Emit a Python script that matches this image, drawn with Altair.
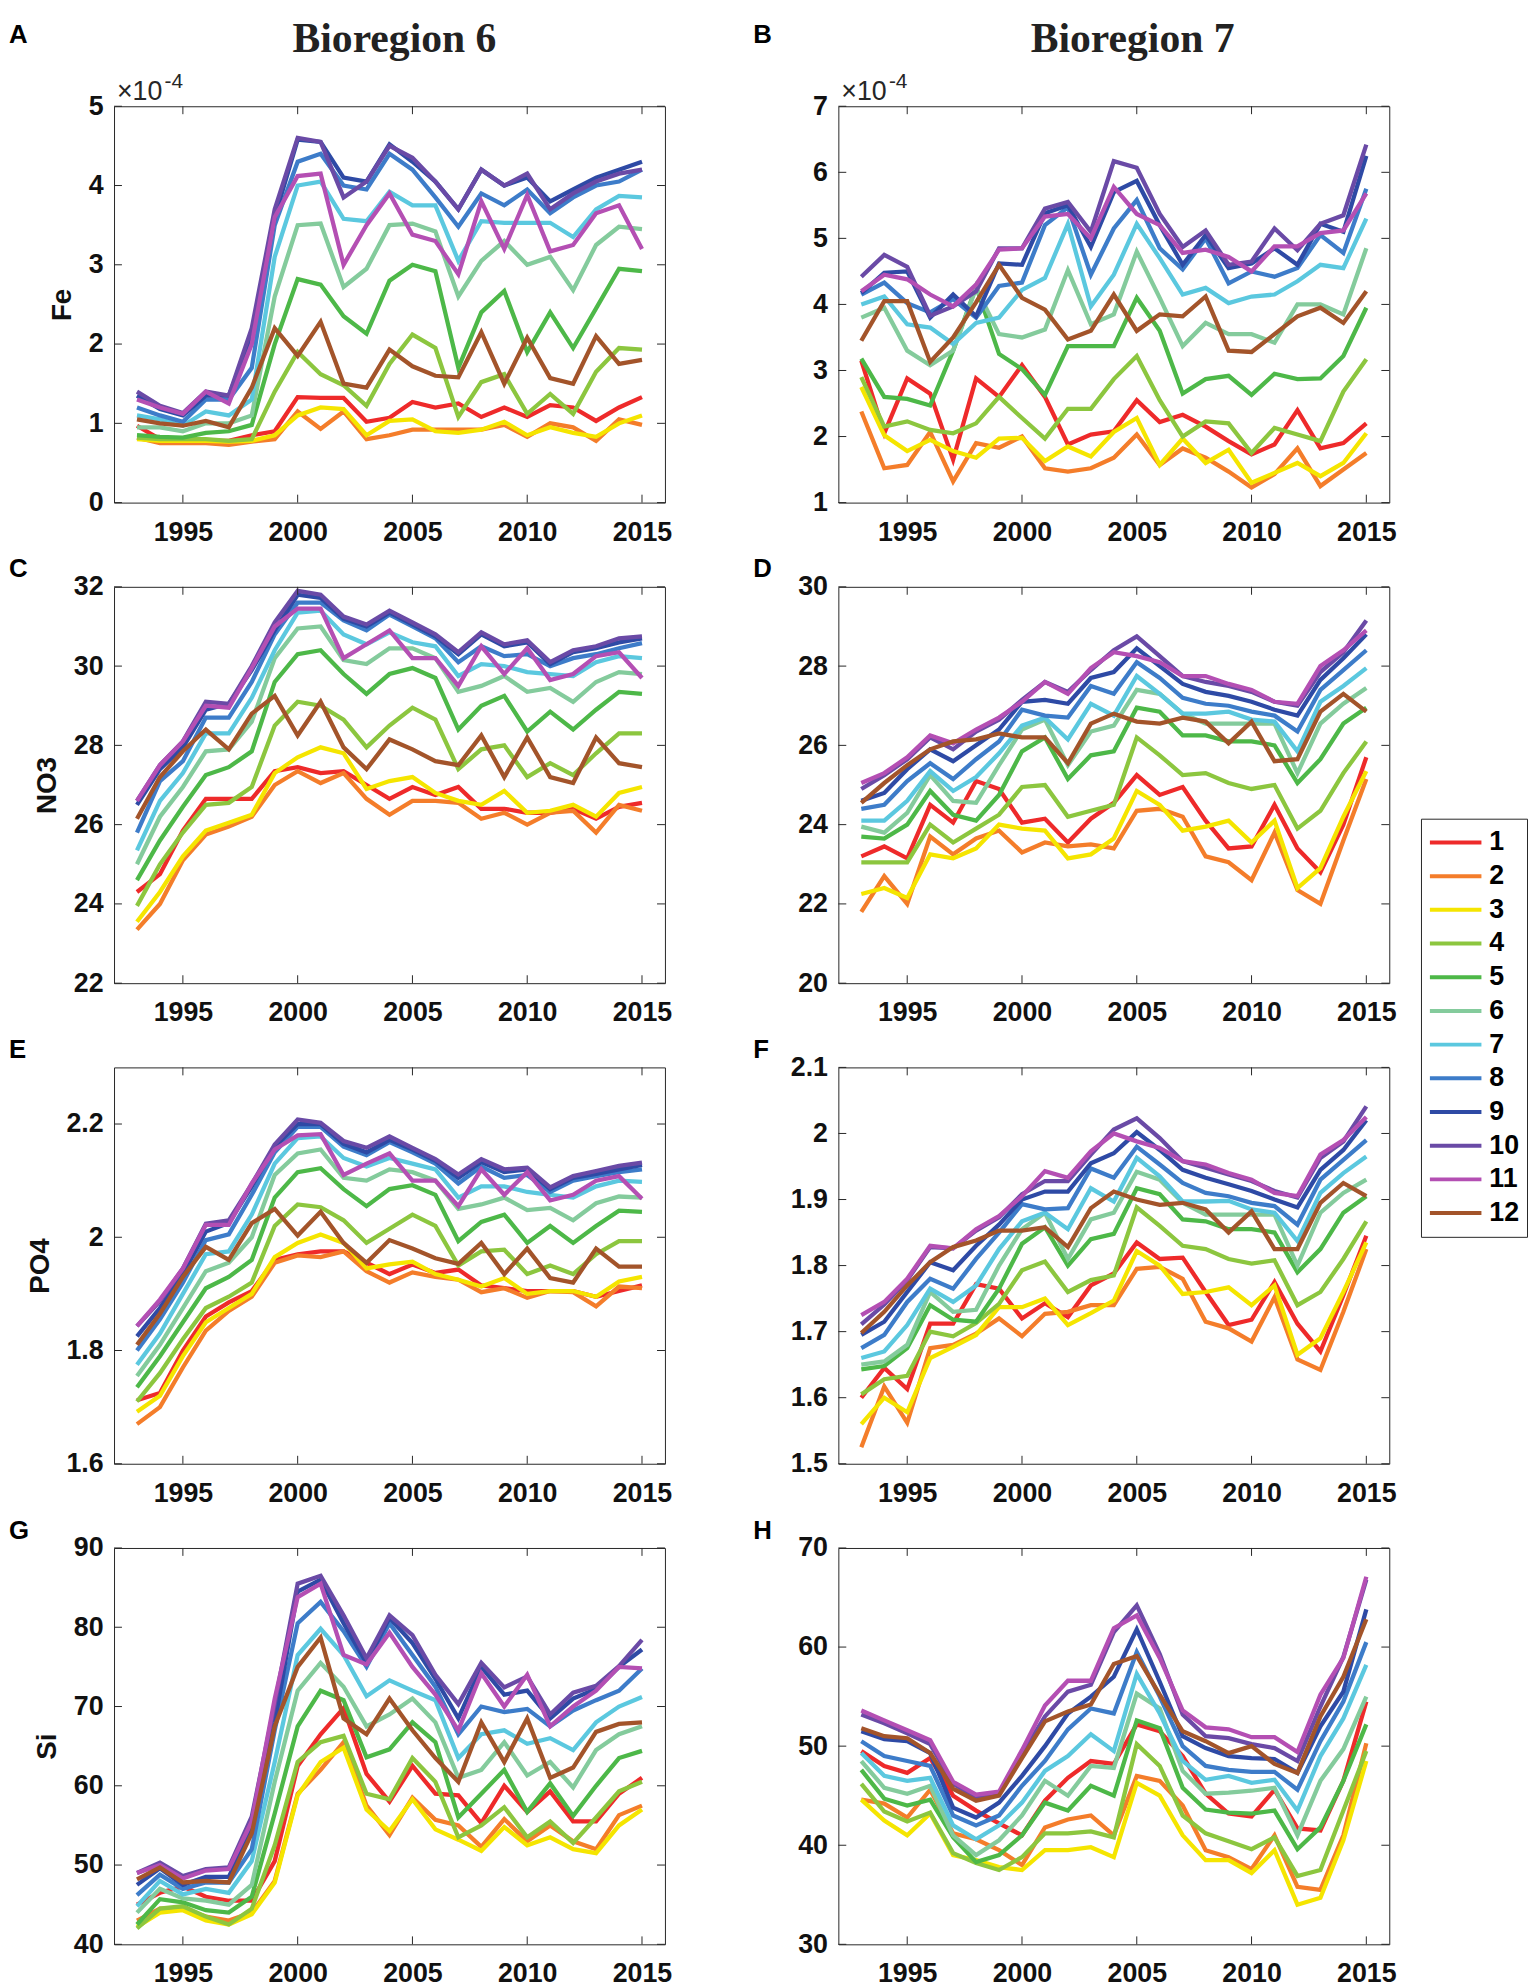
import altair as alt
import pandas as pd

YEARS = list(range(1993, 2016))
SERIES = [str(i) for i in range(1, 13)]
COLORS = ["#EE2A2A", "#F47D2A", "#F5E500", "#8CC63F", "#4DB848", "#84CB9C",
          "#5BC8DF", "#3D7CC9", "#2E4AA5", "#6A4AA6", "#B44FB3", "#A3542A"]
XTICKS = [1995, 2000, 2005, 2010, 2015]

# Fe in units of 1e-4, bioregion 6 (series 1..12)
FE_B6 = [
    [0.97,0.8,0.78,0.78,0.78,0.85,0.9,1.33,1.32,1.32,1.02,1.07,1.27,1.2,1.25,1.08,1.2,1.08,1.23,1.2,1.03,1.2,1.33],
    [0.82,0.75,0.75,0.75,0.73,0.77,0.8,1.15,0.93,1.15,0.8,0.85,0.92,0.92,0.92,0.92,0.98,0.83,1.0,0.95,0.78,1.05,0.98],
    [0.8,0.78,0.78,0.78,0.77,0.78,0.85,1.1,1.2,1.18,0.85,1.03,1.05,0.9,0.88,0.92,1.02,0.85,0.95,0.88,0.83,1.0,1.1],
    [0.82,0.8,0.8,0.8,0.78,0.8,1.4,1.9,1.62,1.48,1.22,1.75,2.12,1.95,1.08,1.52,1.62,1.12,1.37,1.12,1.65,1.95,1.93],
    [0.85,0.83,0.82,0.88,0.9,0.98,2.0,2.82,2.75,2.35,2.13,2.8,3.0,2.92,1.7,2.4,2.67,1.9,2.4,1.95,2.45,2.95,2.92],
    [0.95,0.95,0.9,1.0,1.0,1.1,2.6,3.5,3.52,2.72,2.95,3.5,3.52,3.42,2.6,3.05,3.3,3.0,3.1,2.68,3.25,3.48,3.45],
    [1.1,1.05,0.97,1.15,1.1,1.3,3.1,4.0,4.05,3.58,3.55,3.92,3.75,3.75,3.05,3.55,3.53,3.53,3.53,3.35,3.7,3.87,3.85],
    [1.2,1.1,1.02,1.3,1.3,1.7,3.5,4.3,4.4,4.0,3.95,4.4,4.2,3.85,3.48,3.9,3.75,3.95,3.65,3.85,4.0,4.05,4.2],
    [1.35,1.18,1.1,1.35,1.35,2.1,3.6,4.58,4.55,4.1,4.05,4.52,4.3,4.05,3.7,4.2,4.0,4.1,3.8,3.95,4.1,4.2,4.3],
    [1.4,1.22,1.13,1.4,1.35,2.2,3.7,4.6,4.55,3.85,4.05,4.5,4.35,4.05,3.7,4.2,4.0,4.15,3.7,3.9,4.05,4.15,4.2],
    [1.3,1.2,1.12,1.4,1.25,2.0,3.6,4.12,4.15,3.0,3.5,3.9,3.38,3.3,2.88,3.8,3.2,3.88,3.17,3.25,3.65,3.75,3.2],
    [1.05,1.0,0.97,1.03,0.95,1.45,2.2,1.85,2.28,1.5,1.45,1.93,1.72,1.6,1.58,2.15,1.5,2.08,1.57,1.5,2.1,1.75,1.8],
]
FE_B7 = [
    [3.15,2.05,2.88,2.65,1.65,2.88,2.6,3.08,2.6,1.88,2.03,2.08,2.55,2.22,2.33,2.15,1.93,1.73,1.88,2.4,1.82,1.9,2.2],
    [2.38,1.52,1.57,2.07,1.32,1.9,1.83,2.0,1.52,1.47,1.52,1.68,2.03,1.57,1.82,1.68,1.47,1.23,1.43,1.82,1.25,1.5,1.75],
    [2.75,2.02,1.78,1.95,1.78,1.68,1.97,1.98,1.63,1.85,1.7,2.07,2.28,1.57,1.97,1.6,1.8,1.3,1.45,1.6,1.4,1.6,2.05],
    [2.9,2.15,2.23,2.1,2.05,2.2,2.6,2.28,1.97,2.42,2.42,2.87,3.22,2.55,2.0,2.23,2.2,1.75,2.13,2.03,1.93,2.68,3.17],
    [3.18,2.6,2.57,2.47,3.3,4.27,3.25,3.02,2.63,3.37,3.37,3.37,4.1,3.6,2.65,2.87,2.92,2.63,2.95,2.87,2.88,3.22,3.95],
    [3.8,3.95,3.3,3.08,3.3,4.25,3.55,3.5,3.62,4.52,3.7,3.85,4.8,4.1,3.37,3.72,3.55,3.55,3.42,4.0,4.0,3.85,4.85],
    [4.0,4.12,3.7,3.65,3.4,3.72,3.8,4.22,4.4,5.22,3.97,4.45,5.22,4.7,4.15,4.25,4.02,4.12,4.15,4.35,4.6,4.55,5.3],
    [4.15,4.33,4.02,3.88,4.08,3.8,4.28,4.33,5.2,5.47,4.45,5.15,5.58,4.85,4.53,5.0,4.32,4.5,4.42,4.55,5.05,4.78,5.75],
    [4.17,4.48,4.5,3.8,4.15,3.82,4.62,4.6,5.38,5.5,4.87,5.7,5.87,5.2,4.6,5.05,4.55,4.62,4.85,4.6,5.22,5.1,6.25],
    [4.42,4.75,4.57,3.83,3.97,4.2,4.85,4.85,5.45,5.55,5.1,6.17,6.07,5.37,4.87,5.12,4.6,4.65,5.15,4.82,5.22,5.35,6.42],
    [4.2,4.45,4.38,4.15,3.97,4.3,4.83,4.85,5.33,5.37,5.0,5.78,5.37,5.2,4.78,4.83,4.72,4.5,4.88,4.88,5.08,5.12,5.68],
    [3.45,4.05,4.05,3.13,3.5,4.03,4.6,4.1,3.92,3.47,3.6,4.15,3.6,3.85,3.82,4.12,3.3,3.28,3.55,3.82,3.95,3.72,4.2],
]
NO3_B6 = [
    [24.3,24.75,25.85,26.65,26.65,26.65,27.35,27.45,27.3,27.35,27.0,26.65,26.95,26.75,26.95,26.4,26.4,26.3,26.3,26.4,26.15,26.45,26.55],
    [23.35,24.0,25.1,25.75,25.95,26.2,27.0,27.35,27.05,27.3,26.65,26.25,26.6,26.6,26.55,26.15,26.3,26.0,26.3,26.35,25.8,26.5,26.35],
    [23.55,24.3,25.2,25.85,26.05,26.25,27.3,27.7,27.95,27.8,26.9,27.1,27.2,26.8,26.6,26.5,26.85,26.3,26.35,26.5,26.2,26.8,26.95],
    [23.95,25.0,25.8,26.5,26.55,26.95,28.5,29.1,29.0,28.65,27.95,28.5,28.95,28.65,27.4,27.9,28.0,27.2,27.55,27.25,27.8,28.3,28.3],
    [24.6,25.6,26.45,27.25,27.45,27.85,29.6,30.3,30.4,29.8,29.3,29.8,29.95,29.7,28.4,29.0,29.25,28.35,28.85,28.4,28.9,29.35,29.3],
    [25.0,26.2,26.95,27.85,27.9,28.6,30.2,30.95,31.0,30.15,30.05,30.45,30.45,30.2,29.35,29.5,29.75,29.35,29.45,29.1,29.6,29.85,29.8],
    [25.35,26.6,27.3,28.3,28.3,29.2,30.4,31.35,31.4,30.8,30.55,30.85,30.6,30.5,29.75,30.05,30.0,29.85,29.8,29.75,30.1,30.25,30.2],
    [25.8,27.1,27.6,28.7,28.7,29.6,30.8,31.6,31.6,31.15,30.9,31.3,31.0,30.7,30.1,30.5,30.25,30.3,30.0,30.2,30.3,30.45,30.58],
    [26.5,27.4,27.95,28.9,29.05,29.9,30.9,31.8,31.72,31.2,31.0,31.35,31.05,30.75,30.3,30.8,30.5,30.6,30.05,30.35,30.45,30.6,30.7],
    [26.6,27.5,28.1,29.1,29.05,30.0,31.1,31.9,31.8,31.25,31.05,31.4,31.1,30.8,30.35,30.85,30.55,30.65,30.1,30.4,30.5,30.7,30.75],
    [26.6,27.5,28.1,29.0,28.95,29.95,31.0,31.45,31.45,30.2,30.55,30.9,30.2,30.2,29.5,30.5,29.8,30.45,29.65,29.8,30.25,30.35,29.7],
    [26.15,27.2,27.85,28.4,27.9,28.8,29.25,28.25,29.1,27.95,27.4,28.15,27.9,27.6,27.5,28.25,27.2,28.2,27.2,27.05,28.2,27.55,27.45],
]
NO3_B7 = [
    [23.2,23.45,23.15,24.5,24.05,25.1,24.9,24.05,24.15,23.55,24.15,24.55,25.25,24.75,24.95,24.1,23.4,23.45,24.5,23.4,22.8,24.0,25.7],
    [21.8,22.7,22.0,23.7,23.25,23.65,23.85,23.3,23.55,23.45,23.5,23.4,24.35,24.4,24.2,23.2,23.05,22.6,23.8,22.35,22.0,23.6,25.15],
    [22.25,22.4,22.15,23.25,23.15,23.4,24.0,23.9,23.85,23.15,23.25,23.65,24.85,24.5,23.85,23.95,24.1,23.55,24.1,22.4,22.9,24.2,25.35],
    [23.05,23.05,23.05,24.0,23.55,23.9,24.25,24.95,25.0,24.2,24.35,24.5,26.2,25.75,25.25,25.3,25.05,24.9,25.0,23.9,24.35,25.3,26.1],
    [23.7,23.65,24.0,24.85,24.25,24.1,24.75,25.85,26.2,25.15,25.75,25.85,26.95,26.85,26.25,26.25,26.1,26.1,26.0,25.05,25.65,26.55,26.95],
    [23.95,23.8,24.3,25.25,24.6,24.55,25.5,26.4,26.65,25.5,26.35,26.5,27.4,27.3,26.8,26.55,26.55,26.55,26.55,25.3,26.55,27.05,27.45],
    [24.1,24.1,24.6,25.35,24.85,25.2,25.8,26.5,26.7,26.15,27.05,26.75,27.75,27.3,26.8,26.8,26.85,26.65,26.6,25.85,27.1,27.5,27.95],
    [24.4,24.5,25.1,25.55,25.15,25.65,26.1,26.9,26.75,26.7,27.5,27.3,28.1,27.7,27.2,27.05,27.0,26.85,26.75,26.35,27.4,27.9,28.4],
    [24.6,24.8,25.4,25.9,25.6,26.0,26.4,27.1,27.15,27.05,27.7,27.85,28.45,28.0,27.55,27.35,27.25,27.1,26.9,26.75,27.65,28.2,28.8],
    [24.9,25.25,25.65,26.2,25.9,26.35,26.65,27.15,27.6,27.35,27.9,28.4,28.75,28.25,27.75,27.6,27.5,27.35,27.1,27.0,27.85,28.35,29.15],
    [25.05,25.3,25.7,26.25,26.05,26.4,26.7,27.1,27.6,27.3,27.95,28.35,28.25,28.1,27.75,27.75,27.55,27.4,27.1,27.05,28.0,28.4,28.9],
    [24.55,25.05,25.5,25.9,26.1,26.15,26.3,26.2,26.2,25.55,26.55,26.8,26.6,26.55,26.7,26.6,26.05,26.6,25.6,25.65,26.85,27.3,26.85],
]
PO4_B6 = [
    [1.712,1.725,1.8,1.86,1.885,1.905,1.96,1.97,1.975,1.975,1.955,1.935,1.952,1.937,1.943,1.915,1.91,1.905,1.905,1.905,1.895,1.905,1.915],
    [1.67,1.7,1.77,1.835,1.87,1.895,1.955,1.968,1.965,1.975,1.94,1.92,1.938,1.93,1.925,1.903,1.91,1.893,1.905,1.903,1.878,1.913,1.91],
    [1.692,1.72,1.79,1.85,1.875,1.9,1.965,1.99,2.005,1.99,1.945,1.952,1.957,1.935,1.925,1.913,1.928,1.9,1.905,1.905,1.895,1.922,1.93],
    [1.71,1.76,1.82,1.875,1.895,1.92,2.02,2.058,2.053,2.03,1.99,2.015,2.04,2.02,1.95,1.975,1.978,1.935,1.95,1.935,1.97,1.993,1.993],
    [1.735,1.79,1.85,1.91,1.93,1.96,2.07,2.115,2.122,2.085,2.055,2.085,2.092,2.075,1.993,2.027,2.04,1.99,2.02,1.99,2.02,2.047,2.045],
    [1.755,1.81,1.875,1.94,1.955,2.0,2.11,2.148,2.155,2.105,2.1,2.12,2.115,2.1,2.05,2.058,2.07,2.048,2.052,2.03,2.06,2.072,2.07],
    [1.775,1.83,1.9,1.97,1.975,2.04,2.13,2.175,2.178,2.14,2.125,2.14,2.13,2.12,2.07,2.09,2.09,2.08,2.075,2.07,2.09,2.1,2.098],
    [1.8,1.855,1.92,1.995,2.005,2.075,2.15,2.195,2.195,2.16,2.145,2.168,2.15,2.13,2.095,2.125,2.105,2.11,2.08,2.1,2.108,2.115,2.12],
    [1.825,1.875,1.935,2.01,2.025,2.09,2.16,2.2,2.2,2.165,2.15,2.172,2.155,2.135,2.105,2.133,2.115,2.12,2.085,2.105,2.112,2.12,2.128],
    [1.843,1.887,1.945,2.024,2.03,2.094,2.164,2.208,2.202,2.17,2.158,2.178,2.158,2.138,2.111,2.138,2.12,2.123,2.088,2.108,2.117,2.126,2.132],
    [1.843,1.89,1.945,2.022,2.022,2.095,2.155,2.18,2.182,2.11,2.13,2.148,2.1,2.1,2.055,2.12,2.075,2.115,2.065,2.075,2.1,2.108,2.068],
    [1.81,1.865,1.93,1.983,1.96,2.025,2.05,2.003,2.045,1.99,1.955,1.995,1.98,1.963,1.953,1.99,1.935,1.98,1.928,1.92,1.98,1.948,1.948],
]
PO4_B7 = [
    [1.6,1.645,1.613,1.712,1.712,1.772,1.765,1.72,1.743,1.722,1.77,1.788,1.835,1.81,1.812,1.76,1.71,1.718,1.775,1.712,1.67,1.755,1.845],
    [1.525,1.617,1.562,1.675,1.68,1.697,1.72,1.693,1.727,1.73,1.74,1.74,1.795,1.798,1.78,1.715,1.705,1.685,1.752,1.658,1.642,1.73,1.825],
    [1.56,1.6,1.578,1.66,1.677,1.695,1.737,1.737,1.75,1.71,1.728,1.747,1.822,1.8,1.757,1.76,1.767,1.74,1.77,1.665,1.69,1.76,1.835],
    [1.605,1.628,1.633,1.7,1.693,1.713,1.742,1.793,1.806,1.76,1.778,1.785,1.888,1.86,1.83,1.825,1.81,1.803,1.808,1.74,1.76,1.81,1.867],
    [1.643,1.648,1.675,1.74,1.718,1.715,1.765,1.833,1.858,1.8,1.84,1.848,1.917,1.908,1.87,1.867,1.855,1.855,1.85,1.79,1.825,1.88,1.905],
    [1.65,1.655,1.68,1.76,1.73,1.733,1.8,1.855,1.88,1.81,1.87,1.88,1.942,1.93,1.895,1.877,1.877,1.877,1.877,1.8,1.88,1.91,1.93],
    [1.66,1.67,1.71,1.765,1.745,1.77,1.825,1.867,1.88,1.855,1.917,1.897,1.963,1.935,1.897,1.897,1.898,1.885,1.88,1.837,1.91,1.94,1.965],
    [1.675,1.695,1.745,1.78,1.765,1.81,1.85,1.893,1.885,1.887,1.947,1.933,1.98,1.953,1.925,1.91,1.905,1.895,1.89,1.862,1.93,1.96,1.99],
    [1.695,1.715,1.76,1.805,1.793,1.83,1.862,1.9,1.912,1.912,1.955,1.97,2.002,1.975,1.945,1.933,1.923,1.913,1.9,1.888,1.945,1.975,2.02],
    [1.711,1.741,1.778,1.828,1.826,1.853,1.873,1.908,1.928,1.928,1.968,2.006,2.023,1.993,1.958,1.948,1.938,1.928,1.913,1.903,1.963,1.988,2.041],
    [1.725,1.745,1.78,1.83,1.826,1.855,1.875,1.905,1.943,1.933,1.973,2.0,1.988,1.978,1.958,1.953,1.94,1.93,1.91,1.905,1.968,1.99,2.025],
    [1.698,1.73,1.77,1.805,1.828,1.838,1.853,1.853,1.858,1.828,1.887,1.912,1.9,1.892,1.895,1.885,1.85,1.882,1.825,1.825,1.895,1.925,1.905],
]
SI_B6 = [
    [45.0,46.5,47.3,46.0,45.5,45.5,50.5,62.5,66.5,69.8,61.5,58.0,62.5,59.0,58.8,55.3,60.0,56.7,59.3,55.5,55.5,59.0,61.0],
    [43.0,44.5,44.5,43.5,43.0,44.0,48.0,59.0,62.0,65.5,57.5,53.8,58.5,55.7,55.0,52.3,55.8,53.0,55.0,53.0,52.0,56.3,57.5],
    [42.2,44.0,44.3,43.0,42.5,43.8,47.8,58.8,63.0,64.8,57.0,54.3,58.3,54.5,53.2,51.8,54.8,52.5,53.5,52.0,51.5,55.0,57.0],
    [42.0,44.5,44.8,43.5,42.5,44.5,52.5,63.0,65.5,66.3,59.0,58.3,63.5,60.5,53.5,55.0,57.3,53.5,55.5,52.8,56.0,59.3,60.5],
    [42.5,45.7,45.3,44.3,44.0,46.0,56.5,67.5,72.0,70.8,63.6,64.6,68.0,65.5,56.0,59.0,62.0,56.7,60.3,56.2,60.0,63.5,64.4],
    [44.0,47.0,45.8,45.5,45.0,47.5,60.5,72.0,75.5,72.5,67.5,69.0,71.0,68.0,61.0,62.0,65.5,61.3,63.0,59.8,64.5,66.5,67.5],
    [44.8,48.0,46.3,47.0,46.5,50.5,63.0,76.5,79.8,76.5,71.3,73.3,72.0,70.8,63.5,66.5,67.0,65.3,66.0,64.5,68.0,70.0,71.2],
    [46.2,48.8,47.0,47.8,47.8,52.0,67.0,80.5,83.2,79.5,75.0,80.5,76.5,72.5,66.5,70.0,69.3,69.7,67.5,69.5,70.8,72.0,74.8],
    [47.5,49.6,47.5,48.5,48.5,54.5,68.0,84.5,86.0,80.5,75.5,81.2,78.0,73.5,68.5,75.0,71.5,72.0,68.5,71.0,72.2,75.0,77.2],
    [49.0,50.3,48.6,49.5,49.7,56.1,70.3,85.5,86.5,81.5,76.1,81.5,79.0,74.0,70.3,75.5,72.4,73.8,69.0,71.75,72.6,75.1,78.4],
    [49.0,50.0,48.3,49.3,49.5,55.5,71.0,83.8,85.5,76.5,75.3,79.3,75.0,71.5,67.0,74.2,70.0,74.0,67.5,70.0,72.0,75.0,74.8],
    [48.2,49.7,47.8,48.0,47.8,54.0,67.5,75.0,78.7,68.5,66.5,71.0,67.0,63.5,60.5,68.0,63.0,68.5,61.0,62.3,66.8,67.8,68.0],
]
SI_B7 = [
    [49.5,48.0,47.3,48.8,45.0,43.5,42.2,41.0,44.5,46.8,48.5,48.2,52.2,51.5,49.0,45.2,43.2,42.9,45.6,41.7,41.5,46.5,54.5],
    [44.6,44.2,42.8,45.6,41.2,40.6,39.5,38.0,41.8,42.6,43.0,41.0,47.0,46.5,44.0,39.5,38.8,37.6,41.0,35.8,35.5,41.0,50.3],
    [44.6,42.5,41.0,43.2,39.0,38.5,37.8,37.5,39.5,39.5,39.8,38.8,46.3,45.0,41.0,38.5,38.5,37.2,39.5,34.0,34.7,40.5,48.5],
    [46.2,43.4,42.4,43.3,39.2,38.2,37.5,38.8,41.2,41.2,41.4,40.8,50.2,48.0,43.0,41.2,40.4,39.6,40.8,36.9,37.5,43.5,49.5],
    [47.6,44.7,44.0,44.6,40.8,38.3,39.0,41.0,44.3,43.5,46.0,45.0,52.6,51.8,45.8,43.6,43.3,43.2,43.5,39.6,41.8,46.5,52.2],
    [48.5,45.8,45.2,46.0,41.0,39.0,40.5,43.0,46.5,45.0,48.0,47.8,55.3,53.8,47.5,45.2,45.3,45.5,45.8,41.0,46.5,49.7,55.0],
    [49.3,47.0,46.5,46.8,42.0,40.6,42.0,44.3,47.5,49.0,51.2,49.5,57.3,53.3,48.5,46.6,47.0,46.3,46.6,43.5,49.0,52.8,58.2],
    [50.5,49.0,48.5,48.0,43.0,42.0,43.0,46.0,48.5,51.7,53.8,53.3,59.5,55.0,50.0,48.0,47.6,47.4,47.4,45.6,50.5,54.5,60.5],
    [51.5,50.7,50.5,49.3,43.8,42.8,44.3,47.0,50.0,53.3,55.0,57.0,61.8,56.5,51.0,49.8,49.0,48.8,48.7,47.3,52.0,55.5,63.8],
    [53.2,52.3,51.3,50.2,46.2,44.8,45.2,49.2,53.0,55.5,56.2,61.5,64.2,59.3,53.2,51.0,50.8,50.2,49.8,48.5,54.0,59.0,66.8],
    [53.6,52.6,51.6,50.6,46.4,45.1,45.4,49.6,54.1,56.6,56.6,61.9,63.2,58.9,53.6,51.9,51.7,50.9,50.9,49.4,55.2,58.9,67.1],
    [51.8,51.0,50.8,49.3,45.7,44.5,45.0,48.8,52.5,53.5,54.2,58.3,59.1,55.2,51.5,50.5,49.3,50.0,48.2,47.3,53.0,57.0,62.8],
]

W, H = 556, 400
TICK = 8
AX = "#262626"
SANS = "Liberation Sans"
SERIF = "Liberation Serif"

LEGEND = alt.Legend(
    title=None, orient="none", legendX=1319, legendY=719,
    symbolType="stroke", symbolStrokeWidth=4, symbolSize=2704,
    labelFont=SANS, labelFontSize=27, labelFontWeight="bold", labelColor="black",
    labelOffset=6, strokeColor=AX, fillColor="white", padding=7,
    clipHeight=34, rowPadding=0, symbolOpacity=1,
)


def text_mark(s, x, y, size, font, weight="bold", align="left", color="black"):
    # y is the alphabetic baseline; drawn with a "top" baseline so the text's
    # layout box stays close to the glyphs
    return alt.Chart(pd.DataFrame({"s": [s]})).mark_text(
        align=align, baseline="top", fontSize=size, font=font,
        fontWeight=weight, color=color,
    ).encode(x=alt.value(x), y=alt.value(y - 0.79 * size), text="s:N")


def panel(values, ydom, yticks, yfmt, ytitle, letter, left_col, top_row, title=None, sci=False):
    assert len(values) == 12 and all(len(v) == len(YEARS) for v in values)
    rows = []
    for s, vals in zip(SERIES, values):
        for yr, v in zip(YEARS, vals):
            rows.append({"year": yr, "value": v, "series": s})
    df = pd.DataFrame(rows)
    xscale = alt.Scale(domain=[1992, 2016], nice=False, zero=False)
    yscale = alt.Scale(domain=ydom, nice=False, zero=False)
    xaxis = alt.Axis(values=XTICKS, format="d", title=None, grid=False, domain=False,
                     ticks=False, labelPadding=17, labelFlush=False, labelOverlap=False)
    yargs = dict(values=yticks, format=yfmt, grid=False, domain=False, ticks=False,
                 labelPadding=11, labelFlush=False, labelOverlap=False, titlePadding=12)
    yaxis = alt.Axis(title=ytitle, **yargs) if ytitle else alt.Axis(title=None, **yargs)
    lines = alt.Chart(df).mark_line(strokeWidth=4.3).encode(
        x=alt.X("year:Q", scale=xscale, axis=xaxis),
        y=alt.Y("value:Q", scale=yscale, axis=yaxis),
        color=alt.Color("series:N", scale=alt.Scale(domain=SERIES, range=COLORS), legend=LEGEND),
    )
    xt = alt.Chart(pd.DataFrame({"t": XTICKS}))
    yt = alt.Chart(pd.DataFrame({"t": yticks}))
    rule = dict(color=AX, strokeWidth=1)
    ticks = [
        xt.mark_rule(**rule).encode(x=alt.X("t:Q", scale=xscale, axis=xaxis), y=alt.value(H), y2=alt.value(H - TICK)),
        xt.mark_rule(**rule).encode(x=alt.X("t:Q", scale=xscale, axis=xaxis), y=alt.value(0), y2=alt.value(TICK)),
        yt.mark_rule(**rule).encode(y=alt.Y("t:Q", scale=yscale, axis=yaxis), x=alt.value(0), x2=alt.value(TICK)),
        yt.mark_rule(**rule).encode(y=alt.Y("t:Q", scale=yscale, axis=yaxis), x=alt.value(W - TICK), x2=alt.value(W)),
    ]
    texts = []
    lx = -106 if left_col else -86
    ly = -64 if top_row else -10
    texts.append(text_mark(letter, lx, ly, 26, SANS))
    if title:
        cx = 283 if left_col else 297
        texts.append(text_mark(title, cx, -55, 42, SERIF, align="center", color="#222222"))
    if sci:
        texts.append(text_mark("\u00d710", 3, -6, 27, SANS, weight="normal", color=AX))
        texts.append(text_mark("-4", 51, -19, 21, SANS, weight="normal", color=AX))
    return alt.layer(lines, *ticks, *texts).properties(width=W, height=H)


pA = panel(FE_B6, [0, 5], [0, 1, 2, 3, 4, 5], "d", "Fe", "A", True, True, "Bioregion 6", True)
pB = panel(FE_B7, [1, 7], [1, 2, 3, 4, 5, 6, 7], "d", None, "B", False, True, "Bioregion 7", True)
pC = panel(NO3_B6, [22, 32], [22, 24, 26, 28, 30, 32], "d", "NO3", "C", True, False)
pD = panel(NO3_B7, [20, 30], [20, 22, 24, 26, 28, 30], "d", None, "D", False, False)
pE = panel(PO4_B6, [1.6, 2.3], [1.6, 1.8, 2.0, 2.2], ".1~f", "PO4", "E", True, False)
pF = panel(PO4_B7, [1.5, 2.1], [1.5, 1.6, 1.7, 1.8, 1.9, 2.0, 2.1], ".1~f", None, "F", False, False)
pG = panel(SI_B6, [40, 90], [40, 50, 60, 70, 80, 90], "d", "Si", "G", True, False)
pH = panel(SI_B7, [30, 70], [30, 40, 50, 60, 70], "d", None, "H", False, False)

chart = alt.concat(
    pA, pB, pC, pD, pE, pF, pG, pH,
    columns=2, spacing={"row": 85, "column": 175}, bounds="flush",
).resolve_scale(y="independent", x="independent").configure(
    padding={"left": 0, "top": 0, "right": 0, "bottom": 0},
    background="white",
).configure_view(
    stroke=AX, strokeWidth=1,
).configure_axis(
    labelFont=SANS, labelFontSize=27, labelFontWeight="bold", labelColor="#111111",
    titleFont=SANS, titleFontSize=28, titleFontWeight="bold", titleColor="#111111",
)

chart.save("out.html", embed_options={"renderer": "svg", "actions": False})
